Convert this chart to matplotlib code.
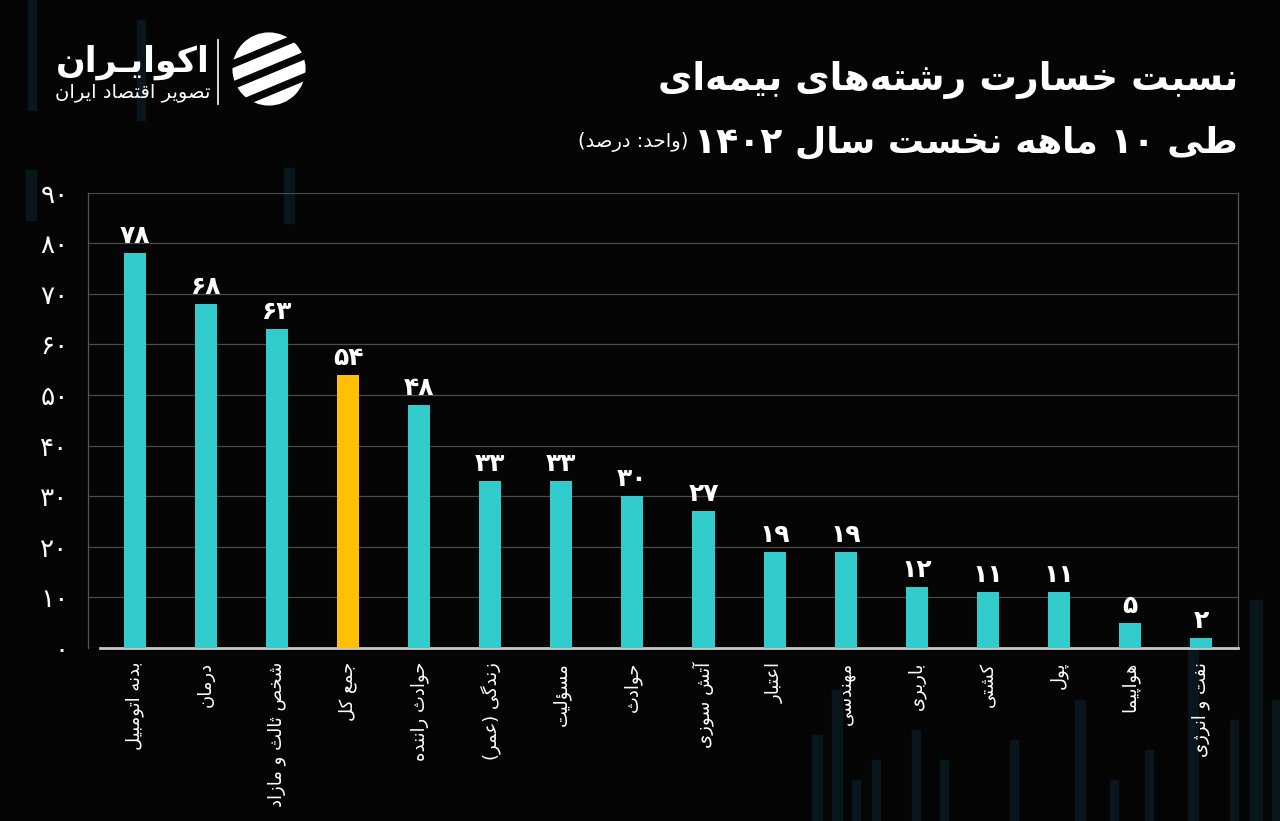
import re
import matplotlib
matplotlib.use('Agg')
import matplotlib.pyplot as plt
from matplotlib.patches import Rectangle, Circle, Polygon

# --- data ---
categories = ['بدنه اتومبیل', 'درمان', 'شخص ثالث و مازاد', 'جمع کل', 'حوادث راننده',
              'زندگی (عمر)', 'مسؤلیت', 'حوادث', 'آتش سوزی', 'اعتبار', 'مهندسی',
              'باربری', 'کشتی', 'پول', 'هواپیما', 'نفت و انرژی']
values = [78, 68, 63, 54, 48, 33, 33, 30, 27, 19, 19, 12, 11, 11, 5, 2]
highlight = 'جمع کل'
yticks = [0, 10, 20, 30, 40, 50, 60, 70, 80, 90]

title1 = 'نسبت خسارت رشته\u200cهای بیمه\u200cای'
title2 = 'طی ۱۰ ماهه نخست سال ۱۴۰۲'
unit = '(واحد: درصد)'
brand = 'اکوایـران'
brand_sub = 'تصویر اقتصاد ایران'

TEAL = '#33cccc'
GOLD = '#ffc000'
BG = '#050505'

# --- tiny persian shaper (matplotlib has no rtl shaping) ---
# (isolated, final, initial, medial); None = does not join to the next letter
FORMS = {
    'ء': (0xFE80, None, None, None), 'آ': (0xFE81, 0xFE82, None, None),
    'أ': (0xFE83, 0xFE84, None, None), 'ؤ': (0xFE85, 0xFE86, None, None),
    'إ': (0xFE87, 0xFE88, None, None), 'ئ': (0xFE89, 0xFE8A, 0xFE8B, 0xFE8C),
    'ا': (0xFE8D, 0xFE8E, None, None), 'ب': (0xFE8F, 0xFE90, 0xFE91, 0xFE92),
    'ة': (0xFE93, 0xFE94, None, None), 'ت': (0xFE95, 0xFE96, 0xFE97, 0xFE98),
    'ث': (0xFE99, 0xFE9A, 0xFE9B, 0xFE9C), 'ج': (0xFE9D, 0xFE9E, 0xFE9F, 0xFEA0),
    'ح': (0xFEA1, 0xFEA2, 0xFEA3, 0xFEA4), 'خ': (0xFEA5, 0xFEA6, 0xFEA7, 0xFEA8),
    'د': (0xFEA9, 0xFEAA, None, None), 'ذ': (0xFEAB, 0xFEAC, None, None),
    'ر': (0xFEAD, 0xFEAE, None, None), 'ز': (0xFEAF, 0xFEB0, None, None),
    'س': (0xFEB1, 0xFEB2, 0xFEB3, 0xFEB4), 'ش': (0xFEB5, 0xFEB6, 0xFEB7, 0xFEB8),
    'ص': (0xFEB9, 0xFEBA, 0xFEBB, 0xFEBC), 'ض': (0xFEBD, 0xFEBE, 0xFEBF, 0xFEC0),
    'ط': (0xFEC1, 0xFEC2, 0xFEC3, 0xFEC4), 'ظ': (0xFEC5, 0xFEC6, 0xFEC7, 0xFEC8),
    'ع': (0xFEC9, 0xFECA, 0xFECB, 0xFECC), 'غ': (0xFECD, 0xFECE, 0xFECF, 0xFED0),
    'ف': (0xFED1, 0xFED2, 0xFED3, 0xFED4), 'ق': (0xFED5, 0xFED6, 0xFED7, 0xFED8),
    'ك': (0xFED9, 0xFEDA, 0xFEDB, 0xFEDC), 'ل': (0xFEDD, 0xFEDE, 0xFEDF, 0xFEE0),
    'م': (0xFEE1, 0xFEE2, 0xFEE3, 0xFEE4), 'ن': (0xFEE5, 0xFEE6, 0xFEE7, 0xFEE8),
    'ه': (0xFEE9, 0xFEEA, 0xFEEB, 0xFEEC), 'و': (0xFEED, 0xFEEE, None, None),
    'ى': (0xFEEF, 0xFEF0, None, None), 'ي': (0xFEF1, 0xFEF2, 0xFEF3, 0xFEF4),
    'پ': (0xFB56, 0xFB57, 0xFB58, 0xFB59), 'چ': (0xFB7A, 0xFB7B, 0xFB7C, 0xFB7D),
    'ژ': (0xFB8A, 0xFB8B, None, None), 'ک': (0xFB8E, 0xFB8F, 0xFB90, 0xFB91),
    'گ': (0xFB92, 0xFB93, 0xFB94, 0xFB95), 'ی': (0xFBFC, 0xFBFD, 0xFBFE, 0xFBFF),
    'ـ': (0x640, 0x640, 0x640, 0x640),
}
LAMALEF = {'ا': (0xFEFB, 0xFEFC), 'آ': (0xFEF5, 0xFEF6), 'أ': (0xFEF7, 0xFEF8), 'إ': (0xFEF9, 0xFEFA)}


def shape(text):
    out = []
    i = 0
    n = len(text)
    while i < n:
        c = text[i]
        if c == '\u200c':
            i += 1
            continue
        if c not in FORMS:
            out.append(c)
            i += 1
            continue
        prev = text[i - 1] if i > 0 else None
        jp = prev in FORMS and FORMS[prev][2] is not None
        if c == 'ل' and i + 1 < n and text[i + 1] in LAMALEF:
            iso, fin = LAMALEF[text[i + 1]]
            out.append(chr(fin if jp else iso))
            i += 2
            continue
        nxt = text[i + 1] if i + 1 < n else None
        jn = FORMS[c][2] is not None and nxt in FORMS
        iso, fin, ini, med = FORMS[c]
        if jp and jn:
            code = med
        elif jp:
            code = fin
        elif jn:
            code = ini
        else:
            code = iso
        out.append(chr(code))
        i += 1
    return ''.join(out)


def rtl(text):
    s = shape(text)[::-1]
    s = re.sub(r'[0-9\u06F0-\u06F9]+', lambda m: m.group(0)[::-1], s)
    return s.translate({ord('('): ')', ord(')'): '('})


def fa(n):
    return str(n).translate(str.maketrans('0123456789', '۰۱۲۳۴۵۶۷۸۹'))


plt.rcParams['font.family'] = ['DejaVu Sans']

fig = plt.figure(figsize=(12.8, 8.21), dpi=100, facecolor=BG)
W, H = 1280, 821

# faint background candles (decoration only)
deco = [(28, 0, 8, 110), (137, 20, 8, 100), (284, 168, 10, 55), (26, 170, 10, 50),
        (1250, 600, 12, 221), (1188, 640, 10, 181), (1230, 720, 8, 101),
        (812, 735, 10, 86), (832, 690, 10, 131), (852, 780, 8, 41), (872, 760, 8, 61),
        (912, 730, 8, 91), (940, 760, 8, 61), (1010, 740, 8, 81), (1075, 700, 10, 121),
        (1110, 780, 8, 41), (1145, 750, 8, 71), (1272, 700, 8, 121)]
for x0, y0, w, h in deco:
    fig.patches.append(Rectangle((x0 / W, 1 - (y0 + h) / H), w / W, h / H,
                                 transform=fig.transFigure, color='#09161b', zorder=-5))

ax = fig.add_axes([88 / W, 1 - 648 / H, (1238 - 88) / W, (648 - 192.7) / H])
ax.set_facecolor('none')

x = list(range(len(categories)))
colors = [GOLD if c == highlight else TEAL for c in categories]
ax.bar(x, values, width=0.31, color=colors, zorder=3)
for xi, v in zip(x, values):
    ax.text(xi, v + 1.0, fa(v), ha='center', va='bottom', color='white',
            fontsize=18, fontweight='bold', zorder=4)

ax.set_xlim(-0.66, 15.52)
ax.set_ylim(0, 90)
ax.set_yticks(yticks)
ax.set_yticklabels([fa(t) for t in yticks], color='white', fontsize=19)
ax.set_xticks(x)
ax.set_xticklabels([rtl(c) for c in categories], rotation=90, color='white',
                   fontsize=13, va='top', ha='center')
ax.tick_params(axis='both', length=0)
ax.tick_params(axis='y', pad=14)
ax.tick_params(axis='x', pad=10)

ax.yaxis.grid(True, color='#4a4a4a', lw=0.9, zorder=1)
ax.set_axisbelow(True)
for side in ['left', 'right']:
    ax.spines[side].set_color('#555555')
    ax.spines[side].set_linewidth(0.9)
ax.spines['top'].set_visible(False)
ax.spines['bottom'].set_color('#c8c8c8')
ax.spines['bottom'].set_linewidth(2)
ax.spines['bottom'].set_bounds(-0.49, 15.52)

# titles
fig.text(1238 / W, 1 - 80 / H, rtl(title1), ha='right', va='center', color='white',
         fontsize=27, fontweight='bold')
t2 = fig.text(1238 / W, 1 - 142 / H, rtl(title2), ha='right', va='center', color='white',
              fontsize=26, fontweight='bold')
fig.canvas.draw()
bb = t2.get_window_extent(fig.canvas.get_renderer())
fig.text((bb.x0 - 6) / W, 1 - 142 / H, rtl(unit), ha='right', va='center', color='white',
         fontsize=14)

# brand
fig.text(210 / W, 1 - 62 / H, rtl(brand), ha='right', va='center', color='white',
         fontsize=25, fontweight='bold')
fig.text(210 / W, 1 - 93 / H, rtl(brand_sub), ha='right', va='center', color='white',
         fontsize=14)
fig.add_artist(plt.Line2D([218 / W, 218 / W], [1 - 40 / H, 1 - 104 / H], color='white', lw=1.2))

lax = fig.add_axes([230 / W, 1 - 108 / H, 78 / W, 78 / H])
lax.set_xlim(-1, 1)
lax.set_ylim(-1, 1)
lax.set_aspect('equal')
lax.axis('off')
lax.add_patch(Circle((0, 0), 0.92, color='white'))
for off in [-0.55, 0.0, 0.55]:
    lax.add_patch(Polygon([(-1.2, off - 0.62), (1.2, off + 0.38), (1.2, off + 0.55), (-1.2, off - 0.45)],
                          closed=True, color=BG))

fig.savefig('out.png', dpi=100, facecolor=BG)
